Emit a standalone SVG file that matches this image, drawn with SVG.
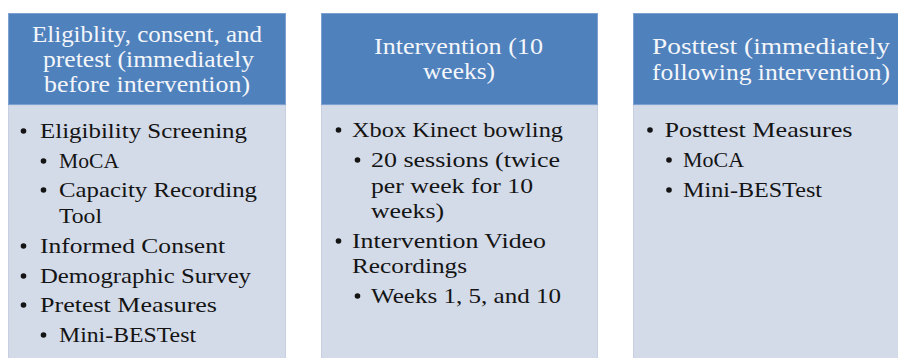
<svg xmlns="http://www.w3.org/2000/svg" width="898" height="358" viewBox="0 0 898 358">
<style>
.hd{fill:#4F81BD;stroke:#7CA0D0;stroke-width:1}
.bd{fill:#D3DAE8;stroke:#C6D0E2;stroke-width:1}
.ht{font-family:"Liberation Serif","DejaVu Serif",serif;font-size:22.5px;fill:#F4F6FA;text-anchor:middle}
.bt{font-family:"Liberation Serif","DejaVu Serif",serif;font-size:22px;fill:#141414}
.dot{fill:#141414}
</style>
<rect width="898" height="358" fill="#fff"/>
<g id="connectors"/>
<g id="col1">
<rect class="bd" x="8.5" y="105" width="277" height="260"/>
<rect class="hd" x="8.5" y="13.5" width="277" height="91"/>
<text class="ht" x="147" y="42" textLength="230" lengthAdjust="spacingAndGlyphs">Eligiblity, consent, and</text>
<text class="ht" x="148.5" y="67" textLength="211" lengthAdjust="spacingAndGlyphs">pretest (immediately</text>
<text class="ht" x="147" y="92" textLength="206" lengthAdjust="spacingAndGlyphs">before intervention)</text>
<circle class="dot" cx="23.5" cy="131" r="2.8"/>
<text class="bt" x="40" y="138" textLength="207" lengthAdjust="spacingAndGlyphs">Eligibility Screening</text>
<circle class="dot" cx="43.5" cy="161" r="2.8"/>
<text class="bt" x="59" y="168" textLength="60" lengthAdjust="spacingAndGlyphs">MoCA</text>
<circle class="dot" cx="43.5" cy="190" r="2.8"/>
<text class="bt" x="59" y="197" textLength="198" lengthAdjust="spacingAndGlyphs">Capacity Recording</text>
<text class="bt" x="59" y="222.5" textLength="43" lengthAdjust="spacingAndGlyphs">Tool</text>
<circle class="dot" cx="23.5" cy="246" r="2.8"/>
<text class="bt" x="40" y="253" textLength="185" lengthAdjust="spacingAndGlyphs">Informed Consent</text>
<circle class="dot" cx="23.5" cy="276" r="2.8"/>
<text class="bt" x="40" y="283" textLength="211" lengthAdjust="spacingAndGlyphs">Demographic Survey</text>
<circle class="dot" cx="23.5" cy="305" r="2.8"/>
<text class="bt" x="40" y="312" textLength="177" lengthAdjust="spacingAndGlyphs">Pretest Measures</text>
<circle class="dot" cx="43.5" cy="335" r="2.8"/>
<text class="bt" x="59" y="342" textLength="137" lengthAdjust="spacingAndGlyphs">Mini-BESTest</text>
</g>
<g id="col2">
<rect class="bd" x="321.5" y="105" width="276" height="260"/>
<rect class="hd" x="321.5" y="13.5" width="276" height="91"/>
<text class="ht" x="458.5" y="54" textLength="169" lengthAdjust="spacingAndGlyphs">Intervention (10</text>
<text class="ht" x="459" y="79" textLength="72" lengthAdjust="spacingAndGlyphs">weeks)</text>
<circle class="dot" cx="338.5" cy="130" r="2.8"/>
<text class="bt" x="352" y="137" textLength="211" lengthAdjust="spacingAndGlyphs">Xbox Kinect bowling</text>
<circle class="dot" cx="357.5" cy="160" r="2.8"/>
<text class="bt" x="371" y="167" textLength="189" lengthAdjust="spacingAndGlyphs">20 sessions (twice</text>
<text class="bt" x="371" y="193" textLength="162" lengthAdjust="spacingAndGlyphs">per week for 10</text>
<text class="bt" x="371" y="218" textLength="73" lengthAdjust="spacingAndGlyphs">weeks)</text>
<circle class="dot" cx="338.5" cy="241" r="2.8"/>
<text class="bt" x="352" y="248" textLength="194" lengthAdjust="spacingAndGlyphs">Intervention Video</text>
<text class="bt" x="352" y="273" textLength="115" lengthAdjust="spacingAndGlyphs">Recordings</text>
<circle class="dot" cx="357.5" cy="296" r="2.8"/>
<text class="bt" x="371" y="303" textLength="190" lengthAdjust="spacingAndGlyphs">Weeks 1, 5, and 10</text>
</g>
<g id="col3">
<rect class="bd" x="633.5" y="105" width="280" height="260"/>
<rect class="hd" x="633.5" y="13.5" width="280" height="91"/>
<text class="ht" x="771" y="54" textLength="238" lengthAdjust="spacingAndGlyphs">Posttest (immediately</text>
<text class="ht" x="771" y="80" textLength="238" lengthAdjust="spacingAndGlyphs">following intervention)</text>
<circle class="dot" cx="650" cy="130" r="2.8"/>
<text class="bt" x="664.5" y="137" textLength="188" lengthAdjust="spacingAndGlyphs">Posttest Measures</text>
<circle class="dot" cx="669" cy="160" r="2.8"/>
<text class="bt" x="683" y="167" textLength="61" lengthAdjust="spacingAndGlyphs">MoCA</text>
<circle class="dot" cx="669" cy="190" r="2.8"/>
<text class="bt" x="683" y="197" textLength="139" lengthAdjust="spacingAndGlyphs">Mini-BESTest</text>
</g>
</svg>
